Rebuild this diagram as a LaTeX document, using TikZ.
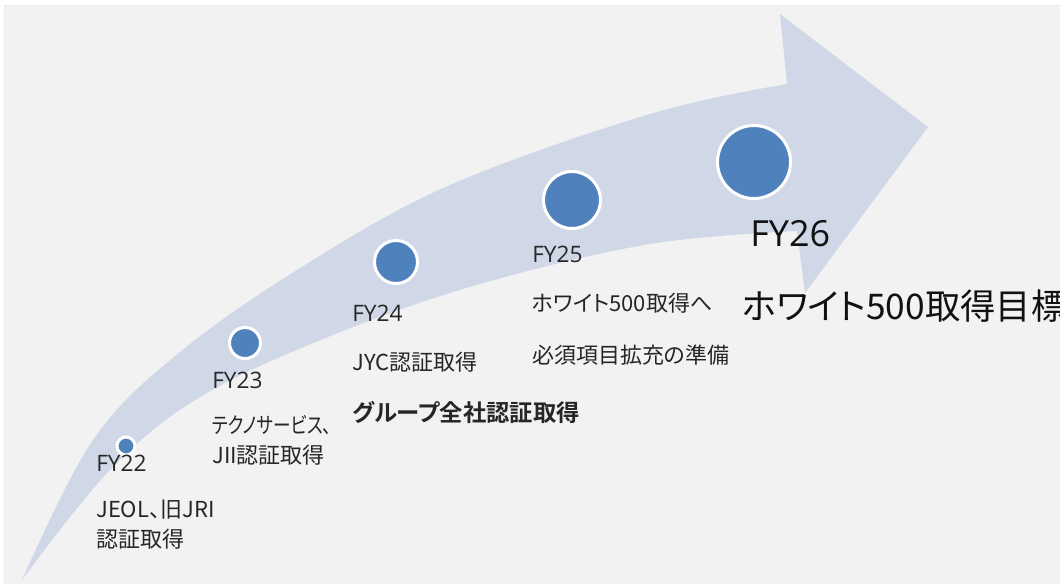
\documentclass[tikz,border=0pt]{standalone}
\usepackage{fontspec}
\setmainfont{Open Sans}
\newfontfamily\jpfont[RawFeature=+palt]{Noto Sans CJK JP}
\newfontfamily\jpnarrow[RawFeature=+palt, FakeStretch=0.8]{Noto Sans CJK JP}
\newfontfamily\jpbold[RawFeature=+palt]{Noto Sans CJK JP Bold}

\definecolor{bgcol}{HTML}{F2F2F2}
\definecolor{bandcol}{HTML}{D0D8E8}
\definecolor{dotcol}{HTML}{4F81BD}
\definecolor{textcol}{HTML}{262626}
\definecolor{darktext}{HTML}{111111}

\tikzset{
  yeardot/.style={circle, fill=dotcol, draw=white, line width=2.25pt, inner sep=0pt, minimum size=#1},
  fylabel/.style={anchor=west, inner sep=0pt, text=textcol, font=\fontsize{17}{20}\selectfont},
  note/.style={anchor=west, inner sep=0pt, text=textcol, font=\jpfont\fontsize{16.5}{20}\selectfont},
}

\begin{document}
\begin{tikzpicture}[x=0.75pt, y=-0.75pt]
		\useasboundingbox (0,0) rectangle (1060,583);
		\clip (0,0) rectangle (1060,583);
		\fill[white] (0,0) rectangle (1060,583);
		\fill[bgcol, draw=black!8] (4,5) rectangle (1062,585);
		% curved arrow
		\fill[bandcol] plot[smooth, tension=0.6] coordinates {(22,580) (93,440) (180,352) (305,265) (450,185) (650,114) (787,84)}
			-- (780,14) -- (928,127) -- (805,293) -- (797,231)
			-- plot[smooth, tension=0.6] coordinates {(797,231) (650,244) (480,284) (333,335) (200,397) (110,470) (22,580)} -- cycle;
		% milestones
		\node[yeardot=13.5pt] (d22) at (126,446) {};
		\node[yeardot=23.25pt] (d23) at (245,343) {};
		\node[yeardot=32.25pt] (d24) at (396,262) {};
		\node[yeardot=42.75pt] (d25) at (572,200) {};
		\node[yeardot=54.75pt] (d26) at (754,162) {};
		\node[fylabel] (fy22) at (96,463) {FY22};
		\node[note] (n22a) at (96,510) {JEOL、旧JRI};
		\node[note] (n22b) at (96,539) {認証取得};
		\node[fylabel] (fy23) at (212,380) {FY23};
		\node[note, font=\jpnarrow\fontsize{16.5}{20}\selectfont] (n23a) at (212,425) {テクノサービス、};
		\node[note] (n23b) at (212,455) {JII認証取得};
		\node[fylabel] (fy24) at (352,313) {FY24};
		\node[note] (n24a) at (352,362) {JYC認証取得};
		\node[note, font=\jpbold\fontsize{17.5}{20}\selectfont] (n24b) at (352,412) {グループ全社認証取得};
		\node[fylabel] (fy25) at (532,254) {FY25};
		\node[note] (n25a) at (532,303) {ホワイト500取得へ};
		\node[note] (n25b) at (532,355) {必須項目拡充の準備};
		\node[fylabel, text=darktext, font=\fontsize{27}{30}\selectfont] (fy26) at (750,234) {FY26};
		\node[note, text=darktext, font=\jpfont\fontsize{26.5}{30}\selectfont] (n26) at (742,306) {ホワイト500取得目標};
	\end{tikzpicture}
\end{document}
